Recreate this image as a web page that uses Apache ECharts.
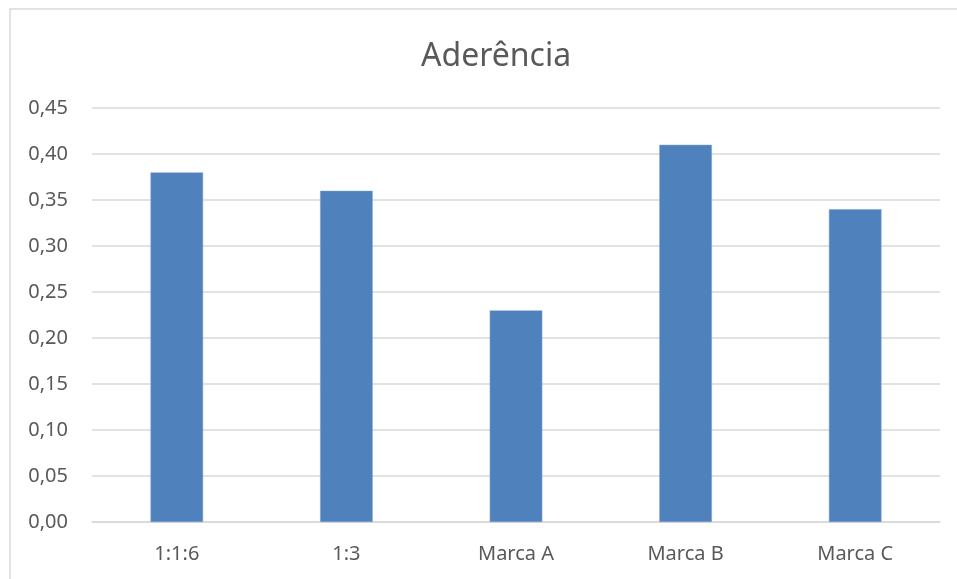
<!DOCTYPE html>
<html>
<head>
<meta charset="utf-8">
<script src="https://cdn.jsdelivr.net/npm/echarts@6/dist/echarts.min.js"></script>
<style>
html,body{margin:0;padding:0;background:#fff;}
#chart{width:957px;height:579px;}
</style>
</head>
<body>
<div id="chart"></div>
<script>
const titleText = 'Aderência';
const categories = ['1:1:6', '1:3', 'Marca A', 'Marca B', 'Marca C'];
const values = [0.38, 0.36, 0.23, 0.41, 0.34];
const yMin = 0, yMax = 0.45, yStep = 0.05;

const chart = echarts.init(document.getElementById('chart'), null, {renderer: 'canvas'});
chart.setOption({
  backgroundColor: '#ffffff',
  animation: false,
  graphic: [{
    type: 'rect', silent: true, z: -1,
    shape: {x: 10, y: 9, width: 1000, height: 700},
    style: {fill: 'none', stroke: '#D9D9D9', lineWidth: 1.5}
  }],
  title: {
    text: titleText,
    left: 416,
    top: 36,
    textStyle: {fontFamily: 'Noto Sans', fontSize: 32, fontWeight: 'normal', color: '#595959'}
  },
  grid: {left: 92, right: 17, top: 108, bottom: 57, containLabel: false},
  xAxis: {
    type: 'category',
    data: categories,
    axisTick: {show: false},
    axisLine: {show: true, lineStyle: {color: '#D9D9D9', width: 1.5}},
    axisLabel: {fontFamily: 'Noto Sans', fontSize: 20, color: '#595959', margin: 22}
  },
  yAxis: {
    type: 'value',
    min: yMin, max: yMax, interval: yStep,
    axisLine: {show: false},
    axisTick: {show: false},
    splitLine: {lineStyle: {color: '#D9D9D9', width: 1.5}},
    axisLabel: {
      fontFamily: 'Noto Sans', fontSize: 20, color: '#595959', margin: 24,
      formatter: v => v.toFixed(2).replace('.', ',')
    }
  },
  series: [{
    type: 'bar',
    data: values,
    barWidth: '31%',
    itemStyle: {color: '#4F81BD', borderColor: '#7FA3D1', borderWidth: 0.5}
  }]
});
</script>
</body>
</html>
